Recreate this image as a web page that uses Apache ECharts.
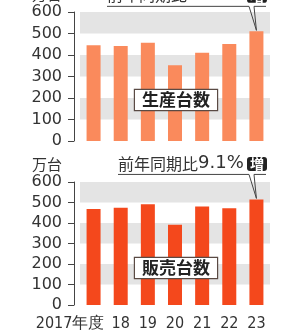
<!DOCTYPE html>
<html>
<head>
<meta charset="utf-8">
<style>
  html, body { margin: 0; padding: 0; background: #fff; }
  #chart { width: 284px; height: 336px; }
</style>
<script src="https://cdn.jsdelivr.net/npm/echarts@6/dist/echarts.min.js"></script>
</head>
<body>
<div id="chart"></div>
<script>
  // 年度
  var years = ['2017', '18', '19', '20', '21', '22', '23']
  // 生産台数 (万台)
  var production = [445, 442, 457, 352, 411, 451, 510]
  // 販売台数 (万台)
  var sales = [468, 474, 492, 391, 481, 472, 515]
  var yTicks = { min: 0, max: 600, interval: 100 }
  var prodNote = '13.1%'
  var salesNote = '9.1%'

  var jp = '"Noto Sans CJK JP", sans-serif'
  var num = '"DejaVu Sans", sans-serif'
  var narrow = '"Liberation Sans Narrow", "DejaVu Sans Condensed", sans-serif'

  function yAxisOf (gridIndex) {
    return {
      type: 'value',
      gridIndex: gridIndex,
      min: yTicks.min,
      max: yTicks.max,
      interval: yTicks.interval,
      offset: 6,
      name: '万台',
      nameLocation: 'end',
      nameGap: 10,
      nameTextStyle: { fontFamily: jp, fontSize: 15, color: '#333', align: 'right', padding: [0, 12, 0, 0] },
      axisLine: { show: true, lineStyle: { color: '#444', width: 1 } },
      axisTick: { show: true, length: 6, lineStyle: { color: '#444', width: 1 } },
      axisLabel: { fontFamily: num, fontSize: 16, color: '#333', margin: 12 },
      splitLine: { show: false },
      splitArea: { show: true, areaStyle: { color: ['rgba(0,0,0,0)', '#e4e4e4'] } }
    }
  }

  var dom = echarts.init(document.getElementById('chart'))
  var option = {
    animation: false,
    grid: [
      { left: 80, right: 14, top: 12, height: 129, containLabel: false, outerBoundsMode: 'none' },
      { left: 80, right: 14, top: 182, height: 123, containLabel: false, outerBoundsMode: 'none' }
    ],
    xAxis: [
      {
        type: 'category', gridIndex: 0, data: years,
        axisLine: { show: false }, axisTick: { show: false }, axisLabel: { show: false }
      },
      {
        type: 'category', gridIndex: 1, data: years,
        axisLine: { show: false }, axisTick: { show: false },
        axisLabel: {
          fontFamily: narrow, fontSize: 16, color: '#333', margin: 11, interval: 0,
          formatter: function (v, i) {
            return i === 0 ? v + '年度{s| }' : v
          },
          rich: { s: { width: 47 } }
        }
      }
    ],
    yAxis: [yAxisOf(0), yAxisOf(1)],
    series: [
      {
        name: '生産台数', type: 'bar', xAxisIndex: 0, yAxisIndex: 0,
        barWidth: 14, itemStyle: { color: '#fa8a5c' }, data: production
      },
      {
        name: '販売台数', type: 'bar', xAxisIndex: 1, yAxisIndex: 1,
        barWidth: 14, itemStyle: { color: '#f4481c' }, data: sales
      }
    ]
  }
  dom.setOption(option)

  function labelBox (text, y) {
    return {
      type: 'text', x: 176, y: y, z: 10,
      style: {
        text: text, fontFamily: jp, fontSize: 17, fontWeight: 'bold', fill: '#222',
        align: 'center', verticalAlign: 'middle',
        backgroundColor: '#fff', borderColor: '#5a4a44', borderWidth: 1.2,
        padding: [2, 7, 1, 7]
      }
    }
  }

  function callout (gridIndex, note, values, textLeft) {
    var last = years.length - 1
    var tip = dom.convertToPixel({ gridIndex: gridIndex }, [years[last], values[last]])
    var lineY = tip[1] - 25
    var textY = lineY - 11
    return [
      {
        type: 'text', x: textLeft, y: textY, z: 10,
        style: {
          text: '{a|前年同期比}{b|' + note + '}', align: 'left', verticalAlign: 'middle',
          rich: {
            a: { fontFamily: jp, fontSize: 16, fill: '#333' },
            b: { fontFamily: num, fontSize: 18, fill: '#333' }
          }
        }
      },
      {
        type: 'text', x: 257, y: textY + 0.5, z: 10,
        style: {
          text: '増', fontFamily: jp, fontSize: 14, fontWeight: 'bold', fill: '#fff',
          align: 'center', verticalAlign: 'middle',
          backgroundColor: '#222', borderRadius: 3, padding: [0, 3, 0, 3]
        }
      },
      {
        type: 'polyline', z: 9,
        shape: { points: [[textLeft, lineY], [249, lineY], [tip[0], tip[1] - 1], [254, lineY], [266, lineY]] },
        style: { stroke: '#444', lineWidth: 1, fill: null }
      }
    ]
  }

  var graphics = [labelBox('生産台数', 100), labelBox('販売台数', 268)]
  graphics = graphics.concat(callout(0, prodNote, production, 107))
  graphics = graphics.concat(callout(1, salesNote, sales, 118))

  dom.setOption({ graphic: graphics })
</script>
</body>
</html>
